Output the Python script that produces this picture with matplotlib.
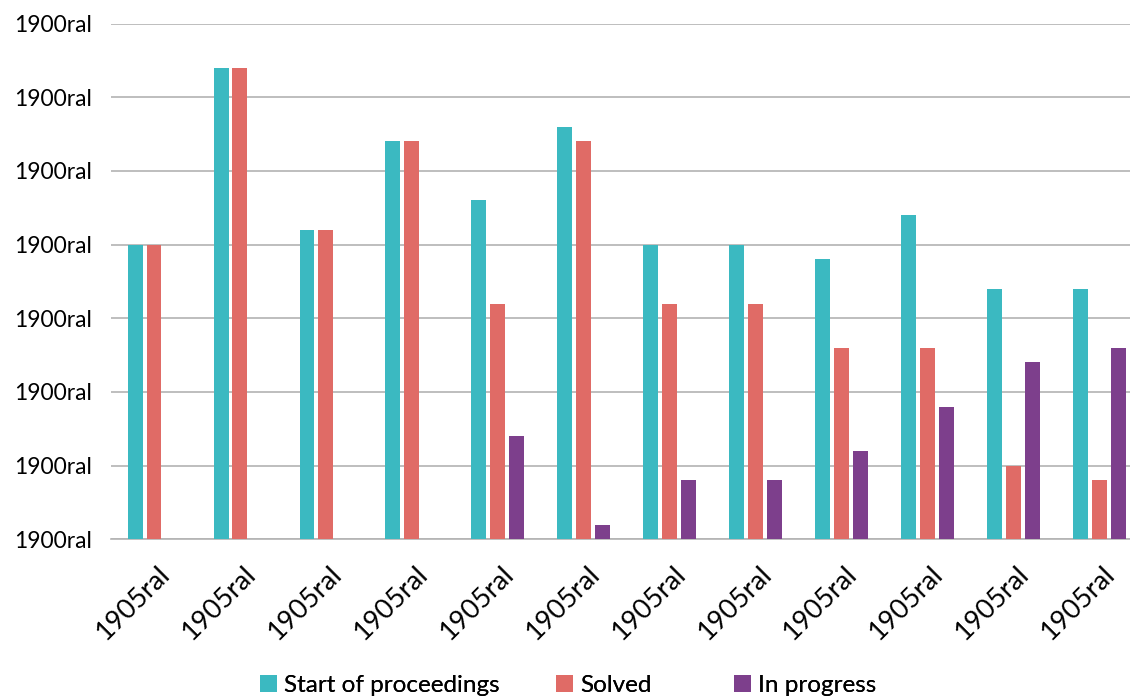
import matplotlib
matplotlib.use("Agg")
import matplotlib.pyplot as plt
import numpy as np
from matplotlib.patches import Patch
import matplotlib.transforms as mtransforms

plt.rcParams['font.family'] = ['Lato', 'DejaVu Sans']

categories = ["1905ral"] * 12
ytick_labels = ["1900ral"] * 8
series_names = ["Start of proceedings", "Solved", "In progress"]
start_vals = [4.0, 6.4, 4.2, 5.4, 4.6, 5.6, 4.0, 4.0, 3.8, 4.4, 3.4, 3.4]
solved_vals = [4.0, 6.4, 4.2, 5.4, 3.2, 5.4, 3.2, 3.2, 2.6, 2.6, 1.0, 0.8]
progress_vals = [0, 0, 0, 0, 1.4, 0.2, 0.8, 0.8, 1.2, 1.8, 2.4, 2.6]
colors = ["#3BB9C1", "#E06B66", "#7D3F8C"]

W, H = 1130, 697
fig = plt.figure(figsize=(W / 100, H / 100), dpi=100)
left = 111 / W
right = 1142.6 / W
bottom = (H - 539.3) / H
top = (H - 23.5) / H
ax = fig.add_axes([left, bottom, right - left, top - bottom])

x = np.arange(len(categories))
bw = 0.174
off = 0.22
for i, (vals, c) in enumerate(zip([start_vals, solved_vals, progress_vals], colors)):
    ax.bar(x + (i - 1) * off, vals, width=bw, color=c, label=series_names[i], zorder=3)

ax.set_xlim(-0.5, len(categories) - 0.5)
ax.set_ylim(0, 7)
ax.set_yticks(range(8))
ax.set_yticklabels(ytick_labels, fontsize=16.5)
ax.set_xticks(x)
ax.set_xticklabels(categories, fontsize=19.5, rotation=45, ha='right', rotation_mode='anchor')
ax.tick_params(axis='both', length=0, colors='#000000')
ax.tick_params(axis='y', pad=13.7)
ax.tick_params(axis='x', pad=16)
shift = mtransforms.ScaledTranslation(3 / 100, 0, fig.dpi_scale_trans)
for lab in ax.get_xticklabels():
    lab.set_transform(lab.get_transform() + shift)
ax.yaxis.grid(True, color='#b3b3b3', linewidth=1.2, zorder=0)
ax.set_axisbelow(True)
for s in ['top', 'right', 'left']:
    ax.spines[s].set_visible(False)
ax.spines['bottom'].set_color('#b3b3b3')
ax.spines['bottom'].set_linewidth(1.2)

# legend entries placed individually
leg_x = [260, 556, 734]
for name, c, lx in zip(series_names, colors, leg_x):
    lg = fig.legend(handles=[Patch(facecolor=c, edgecolor='none')], labels=[name],
                    loc='center left', bbox_to_anchor=(lx / W, (H - 685.5) / H),
                    frameon=False, fontsize=17.5, handlelength=0.7, handleheight=0.7,
                    handletextpad=0.3, borderpad=0, borderaxespad=0)
    fig.add_artist(lg)

fig.savefig("out.png", dpi=100)
